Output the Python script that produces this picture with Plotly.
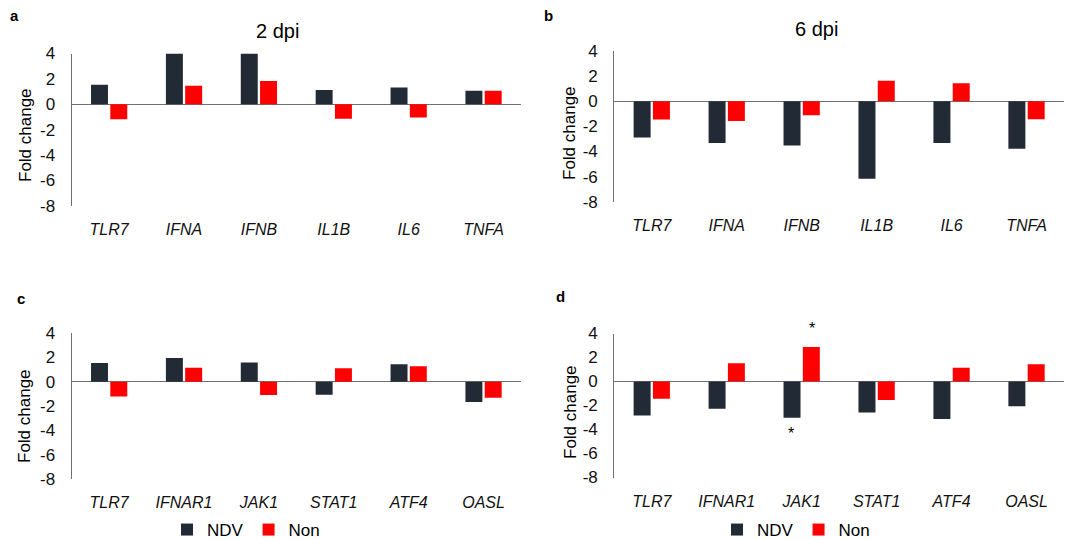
import plotly.graph_objects as go

# ---------------- data ----------------
genes_top = ["TLR7", "IFNA", "IFNB", "IL1B", "IL6", "TNFA"]
genes_bottom = ["TLR7", "IFNAR1", "JAK1", "STAT1", "ATF4", "OASL"]

a_ndv = [1.53, 4.0, 4.0, 1.12, 1.32, 1.07]
a_non = [-1.19, 1.45, 1.84, -1.14, -1.04, 1.07]

b_ndv = [-2.89, -3.32, -3.53, -6.18, -3.32, -3.79]
b_non = [-1.46, -1.57, -1.11, 1.64, 1.43, -1.43]

c_ndv = [1.54, 1.95, 1.57, -1.07, 1.43, -1.68]
c_non = [-1.21, 1.15, -1.10, 1.10, 1.26, -1.32]

d_ndv = [-2.84, -2.27, -3.03, -2.58, -3.13, -2.07]
d_non = [-1.43, 1.52, 2.88, -1.55, 1.14, 1.43]

y_ticks = [-8, -6, -4, -2, 0, 2, 4]
series_names = ["NDV", "Non"]

# ---------------- style ----------------
W, H = 1070, 539
NDV_COLOR = "#222a35"
NON_COLOR = "#ff0000"
AXIS_COLOR = "#707070"
FONT = "Arial, Liberation Sans, sans-serif"


def px_x(p):
    return p / W


def px_y(p):
    return 1 - p / H


panels = [
    # name, genes, ndv, non, x-domain px, y-domain px (top, bottom), legend
    ("a", genes_top, a_ndv, a_non, (71.7, 521.0), (53.5, 205.7), None),
    ("b", genes_top, b_ndv, b_non, (614.3, 1064.0), (51.0, 201.7), None),
    ("c", genes_bottom, c_ndv, c_non, (71.7, 521.0), (333.0, 479.0), "legend"),
    ("d", genes_bottom, d_ndv, d_non, (614.3, 1064.0), (333.5, 477.5), "legend2"),
]

fig = go.Figure()
layout = {}

for i, (name, genes, ndv, non, xd, yd, leg) in enumerate(panels, start=1):
    xa = "x" if i == 1 else f"x{i}"
    ya = "y" if i == 1 else f"y{i}"
    for sname, vals, col in ((series_names[0], ndv, NDV_COLOR), (series_names[1], non, NON_COLOR)):
        kw = dict(
            x=genes, y=vals, name=sname, xaxis=xa, yaxis=ya,
            marker=dict(color=col, line=dict(width=0)),
            showlegend=leg is not None,
            hoverinfo="x+y+name",
        )
        if leg is not None:
            kw["legend"] = leg
        fig.add_trace(go.Bar(**kw))

    xkey = "xaxis" if i == 1 else f"xaxis{i}"
    ykey = "yaxis" if i == 1 else f"yaxis{i}"
    layout[xkey] = dict(
        domain=[px_x(xd[0]), px_x(xd[1])],
        anchor=ya,
        type="category",
        categoryorder="array",
        categoryarray=genes,
        showline=False,
        showgrid=False,
        zeroline=False,
        ticks="outside",
        ticklen=9,
        tickcolor="rgba(0,0,0,0)",
        tickfont=dict(family=FONT, size=16, color="#111", style="italic"),
        fixedrange=True,
    )
    layout[ykey] = dict(
        domain=[px_y(yd[1]), px_y(yd[0])],
        anchor=xa,
        range=[-8, 4],
        tickvals=y_ticks,
        ticktext=[str(v) for v in y_ticks],
        showline=True,
        linecolor=AXIS_COLOR,
        linewidth=1.3,
        zeroline=True,
        zerolinecolor=AXIS_COLOR,
        zerolinewidth=1.3,
        showgrid=False,
        ticks="outside",
        ticklen=12,
        tickcolor="rgba(0,0,0,0)",
        tickfont=dict(family=FONT, size=17, color="#111"),
        fixedrange=True,
    )

annotations = []
# panel letters
for letter, (lx, ly) in {"a": (14, 15), "b": (548, 15), "c": (21, 298), "d": (560, 297)}.items():
    annotations.append(dict(
        text=f"<b>{letter}</b>", x=px_x(lx), y=px_y(ly), xref="paper", yref="paper",
        xanchor="center", yanchor="middle", showarrow=False,
        font=dict(family=FONT, size=15, color="#000"),
    ))
# panel titles
for t, (tx, ty) in {"2 dpi": (277, 31), "6 dpi": (816, 29)}.items():
    annotations.append(dict(
        text=t, x=px_x(tx), y=px_y(ty), xref="paper", yref="paper",
        xanchor="center", yanchor="middle", showarrow=False,
        font=dict(family=FONT, size=20, color="#000"),
    ))
# y axis titles
for (tx, ty) in [(25, 135), (570, 133), (24, 416), (570, 412)]:
    annotations.append(dict(
        text="Fold change", x=px_x(tx), y=px_y(ty), xref="paper", yref="paper",
        xanchor="center", yanchor="middle", showarrow=False, textangle=-90,
        font=dict(family=FONT, size=17, color="#000"),
    ))
# significance stars (panel d, JAK1)
annotations.append(dict(
    text="*", x="JAK1", y=px_y(328), xref="x4", yref="paper", xshift=10.7,
    xanchor="center", yanchor="middle", showarrow=False,
    font=dict(family=FONT, size=16, color="#000"),
))
annotations.append(dict(
    text="*", x="JAK1", y=px_y(433.5), xref="x4", yref="paper", xshift=-10.7,
    xanchor="center", yanchor="middle", showarrow=False,
    font=dict(family=FONT, size=16, color="#000"),
))

legend_style = dict(
    orientation="h", xanchor="center", yanchor="middle",
    bgcolor="rgba(0,0,0,0)", font=dict(family=FONT, size=17, color="#000"),
    itemwidth=30, itemclick=False, itemdoubleclick=False,
)

fig.update_layout(
    width=W, height=H,
    margin=dict(l=0, r=0, t=0, b=0, autoexpand=False),
    paper_bgcolor="white", plot_bgcolor="white",
    barmode="group", bargap=0.485, bargroupgap=0.12,
    font=dict(family=FONT, color="#000"),
    annotations=annotations,
    legend=dict(x=px_x(246), y=px_y(530), **legend_style),
    legend2=dict(x=px_x(796), y=px_y(530), **legend_style),
    **layout,
)

fig.write_html(
    "out.html",
    config={"displayModeBar": False},
    post_script="document.body.style.margin='0';document.body.style.overflow='hidden';",
)
